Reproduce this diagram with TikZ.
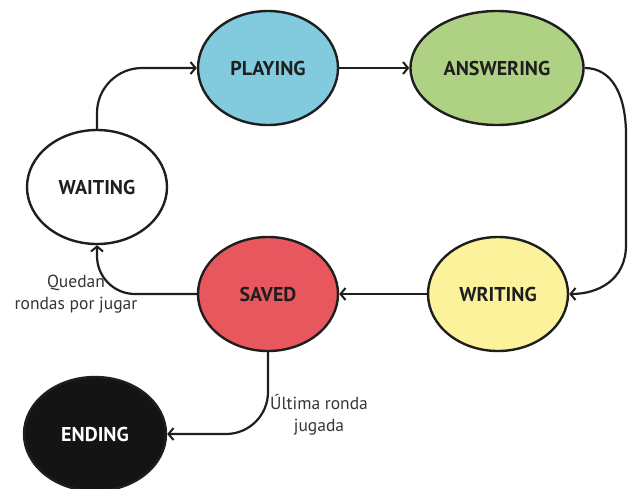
\documentclass[tikz,border=0pt]{standalone}
\usepackage{fontspec}
\setmainfont{PT Sans}
\usetikzlibrary{shapes.geometric,arrows.meta}
\definecolor{cPlay}{HTML}{82CBDE}
\definecolor{cAns}{HTML}{AFD184}
\definecolor{cSave}{HTML}{E8575E}
\definecolor{cWrite}{HTML}{FBF29B}
\definecolor{cEnd}{HTML}{141414}
\definecolor{ink}{HTML}{1E1E1E}
\begin{document}
\begin{tikzpicture}[x=1pt,y=-1pt,
  state/.style={ellipse,draw=ink,line width=2.4pt,minimum width=140pt,minimum height=114pt,
    inner sep=0pt,font=\fontsize{20}{22}\selectfont\bfseries,text=ink},
  flow/.style={draw=ink,line width=2.2pt,-{Straight Barb[length=5pt,width=12pt,line width=2pt]}},
  lbl/.style={align=center,font=\fontsize{17.5}{22}\selectfont,text=ink!90}]
\useasboundingbox (0,0) rectangle (628,488);
\node[state,fill=white] (wait) at (97,187) {WAITING};
\node[state,fill=cPlay] (play) at (268,68) {PLAYING};
\node[state,fill=cAns,minimum width=173pt] (ans) at (497,68) {ANSWERING};
\node[state,fill=cWrite] (write) at (498,294) {WRITING};
\node[state,fill=cSave] (saved) at (268,294) {SAVED};
\node[state,fill=cEnd,text=white,minimum width=142pt] (end) at (95,434) {ENDING};
\node[lbl] (remain) at (76,294) {Quedan\\rondas por jugar};
\node[lbl] (last) at (319,415) {Última ronda\\jugada};
% transitions
\draw[flow,rounded corners=45pt] (wait.north) |- (play.west);
\draw[flow] (play.east) -- (ans.west);
\draw[flow] (ans.east) .. controls (612,68) and (626,95) .. (626,135)
  -- (626,245) .. controls (626,280) and (598,294) .. (write.east);
\draw[flow] (write.west) -- (saved.east);
\draw[flow,rounded corners=38pt] (saved.west) -| (wait.south);
\draw[flow,rounded corners=42pt] (saved.south) |- (end.east);
\end{tikzpicture}
\end{document}
